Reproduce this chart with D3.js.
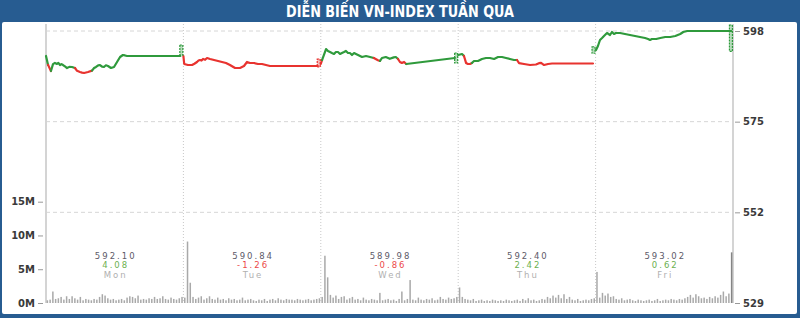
<!DOCTYPE html>
<html lang="vi">
  <head>
    <meta charset="utf-8">
    <title>Diễn biến VN-Index tuần qua</title>
    <style>
      body { margin: 0; background: #fff; }
      svg { display: block; }
      .tick text { font-family: "DejaVu Sans", sans-serif; font-weight: bold; font-size: 10px; fill: #3a3a3a; }
      .tick line { stroke: #999; }
    </style>
  </head>
  <body>
    <svg width="800" height="318"></svg>
    <script src="https://d3js.org/d3.v7.min.js"></script>
    <script>
      // day summary
      var days = ["Mon", "Tue", "Wed", "Thu", "Fri"];
      var closes = [592.10, 590.84, 589.98, 592.40, 593.02];
      var changes = [4.08, -1.26, -0.86, 2.42, 0.62];

      // intraday index, [percent of session, value]
      var priceMon = [[0,591.66],[1.5,589.4],[3.6,587.85],[5.1,589.6],[6.5,589.9],[8.0,589.63],[9.0,589.9],[10.2,589.37],[11.3,589.6],[12.4,589.37],[13.8,589.0],[15.3,588.61],[17.0,588.9],[18.9,588.87],[21.1,588.61],[22.6,587.9],[24.7,587.6],[26.2,587.45],[27.7,587.35],[30.6,587.6],[33.5,587.95],[35.0,588.6],[36.4,588.87],[38.0,589.3],[39.3,589.37],[40.8,588.95],[42.2,588.87],[43.6,589.3],[45.1,589.12],[47.3,588.61],[49.5,588.87],[51.7,590.14],[53.9,591.4],[56.0,591.91],[57.5,591.8],[59.0,591.66],[62.6,591.66],[97.8,591.66]];
      var priceTue = [[0,591.66],[0.6,589.63],[3.3,589.37],[6.3,589.37],[8.0,589.7],[9.9,590.14],[11.0,590.5],[12.1,590.64],[13.2,590.5],[14.3,590.9],[15.8,590.7],[17.2,591.15],[19.4,590.9],[22.3,590.64],[25.2,590.39],[28.1,590.14],[31.0,589.88],[33.9,589.37],[37.6,588.61],[41.2,588.61],[44.1,589.12],[46.3,590.14],[48.5,589.88],[51.4,589.88],[54.3,589.63],[57.2,589.63],[60.1,589.37],[63.0,589.12],[97.8,589.12]];
      var priceWed = [[0,589.63],[0.9,590.64],[3.8,593.43],[5.2,592.93],[6.7,592.67],[8.1,592.42],[9.6,592.17],[11.0,592.67],[12.5,592.67],[14.0,592.17],[15.4,592.42],[16.9,592.67],[18.3,592.93],[19.8,592.42],[21.2,592.42],[22.7,591.91],[24.2,592.42],[25.6,592.17],[27.1,591.91],[30.0,591.40],[32.9,591.66],[35.8,591.40],[38.6,591.15],[41.6,590.6],[43.1,590.4],[44.5,591.15],[47.3,591.4],[50.2,590.95],[53.1,591.3],[54.6,591.4],[56.2,590.9],[57.6,590.14],[59.0,589.88],[60.6,590.14],[62.2,589.63],[97.6,591.15]];
      var priceThu = [[0,591.91],[2.8,592.17],[4.2,591.66],[5.7,589.9],[7.1,589.63],[8.6,589.63],[10.0,589.88],[11.5,590.39],[14.4,590.39],[17.3,590.9],[20.2,591.15],[23.1,591.15],[26.1,590.9],[29.0,591.40],[31.9,591.40],[34.8,591.15],[37.7,590.9],[40.6,590.64],[42.8,590.64],[44.3,589.85],[47.9,589.63],[52.3,589.37],[56.6,589.5],[58.8,589.85],[60.3,589.92],[62.5,589.37],[65.4,589.63],[68.3,589.75],[71.2,589.75],[98.1,589.75]];
      var priceFri = [[0.3,593.18],[1.7,594.19],[3.2,595.72],[4.7,596.22],[6.1,596.73],[8.3,597.49],[10.5,596.99],[11.9,597.75],[13.4,597.24],[14.8,597.49],[17.8,597.49],[21.4,597.24],[25.0,596.99],[28.7,596.73],[32.3,596.48],[36.0,596.22],[38.2,595.97],[39.6,595.72],[41.0,595.97],[44.1,595.97],[47.1,596.22],[50.7,596.48],[54.3,596.48],[58.0,596.73],[61.6,597.24],[63.8,597.75],[66.7,598.00],[98.7,598.00]];

      // closing auction range [high, low]
      var closeHigh = [594.45, 590.90, 592.42, 594.00, 599.52];
      var closeLow = [591.90, 588.87, 589.88, 592.35, 592.85];

      // volume, millions, 50 slots per session
      var volMon = [0.4,0.5,1.7,0.6,0.7,0.9,0.5,1.0,0.6,1.0,0.7,0.5,0.9,0.4,0.6,0.5,0.4,0.6,0.5,0.9,1.3,1.1,0.7,0.5,0.6,0.4,0.5,0.6,0.4,0.8,1.0,0.9,0.7,1.1,0.5,0.6,0.5,0.7,0.6,0.9,0.6,0.7,1.0,0.6,0.5,0.8,0.6,0.5,0.7,0.9];
      var volTue = [0.8,9.1,3.0,0.9,0.6,0.8,1.0,0.5,0.7,1.0,0.6,0.5,0.8,0.5,0.6,0.4,0.7,0.5,0.6,0.4,0.5,0.8,0.4,0.5,0.6,0.4,0.3,0.5,0.4,0.6,0.3,0.5,0.6,0.4,0.7,0.5,0.4,0.6,0.5,0.5,0.4,0.6,0.5,0.4,0.5,0.6,0.4,0.5,0.6,0.7];
      var volWed = [0.9,7.0,3.8,1.2,0.8,1.1,0.6,0.9,1.0,0.5,0.7,0.9,0.5,0.6,0.4,0.8,0.5,0.4,0.6,0.5,0.4,1.5,0.4,0.5,0.6,0.4,0.5,0.3,0.6,1.7,0.4,0.6,3.4,0.5,0.4,0.8,0.5,0.4,0.6,0.5,0.7,0.4,0.5,0.9,0.6,0.5,0.8,0.6,0.7,0.9];
      var volThu = [2.3,0.9,0.6,0.5,0.4,0.6,0.3,0.4,0.5,0.3,0.4,0.3,0.5,0.4,0.3,0.4,0.3,0.5,0.4,0.3,0.4,0.5,0.3,0.6,0.4,0.7,0.4,0.5,0.3,0.4,0.6,0.5,0.9,0.7,1.1,0.8,1.2,0.7,1.3,0.6,0.9,0.5,0.4,0.6,0.3,0.4,0.5,0.4,0.6,0.7];
      var volFri = [4.6,0.8,1.5,1.1,1.4,0.9,1.0,0.6,0.5,0.7,0.4,0.5,0.6,0.4,0.3,0.5,0.4,0.3,0.4,0.5,0.3,0.4,0.6,0.3,0.4,0.5,0.4,0.6,0.5,0.4,0.6,0.5,0.7,0.9,1.2,0.8,1.3,1.0,0.7,0.8,0.6,0.9,0.7,1.0,0.8,1.2,1.7,1.0,1.4,7.5];

      var priceTicks = [529, 552, 575, 598];
      var volTicks = [0, 5, 10, 15];

      var prices = [priceMon, priceTue, priceWed, priceThu, priceFri];
      var volumes = [volMon, volTue, volWed, volThu, volFri];

      var green = "#2f9a3c", red = "#e8332f";
      var svg = d3.select("svg");

      // frame + title
      svg.append("rect").attr("width", 800).attr("height", 318).attr("fill", "#275c91");
      svg.append("rect").attr("x", 2).attr("y", 22).attr("width", 795).attr("height", 292)
        .attr("rx", 2).attr("fill", "#fff");
      svg.append("text")
        .attr("x", 400).attr("y", 16.5)
        .attr("text-anchor", "middle")
        .attr("textLength", 228).attr("lengthAdjust", "spacingAndGlyphs")
        .style("font-family", "'Liberation Sans Narrow', 'DejaVu Sans Condensed', 'Liberation Sans', sans-serif")
        .style("font-weight", "bold").style("font-size", "15px")
        .attr("fill", "#fff")
        .text("DIỄN BIẾN VN-INDEX TUẦN QUA");

      var x = d3.scaleLinear().domain([0, days.length]).range([46, 733]);
      var y = d3.scaleLinear().domain([529, 598]).range([303, 31]);
      var yv = d3.scaleLinear().domain([0, 15]).range([303, 201.7]);

      // grid
      svg.append("g").selectAll("line")
        .data(priceTicks.slice(1))
        .enter().append("line")
        .attr("x1", x(0)).attr("x2", x(5))
        .attr("y1", d => y(d)).attr("y2", d => y(d))
        .attr("stroke", "#d6d6d6").attr("stroke-dasharray", "4,3");

      svg.append("g").selectAll("line")
        .data(d3.range(1, days.length))
        .enter().append("line")
        .attr("x1", d => x(d)).attr("x2", d => x(d))
        .attr("y1", 24).attr("y2", 303)
        .attr("stroke", "#c8c8c8").attr("stroke-dasharray", "1,2");

      [0, days.length].forEach(function(d) {
        svg.append("line")
          .attr("x1", x(d)).attr("x2", x(d)).attr("y1", 24).attr("y2", 303)
          .attr("stroke", "#d4d4d4").attr("stroke-width", 2);
      });

      // volume bars
      var bars = svg.append("g");
      volumes.forEach(function(vols, d) {
        bars.selectAll(null)
          .data(vols)
          .enter().append("rect")
          .attr("x", (v, i) => x(d + (i + 0.5) / vols.length) - 0.75)
          .attr("width", 1.5)
          .attr("y", v => yv(v))
          .attr("height", v => yv(0) - yv(v))
          .attr("fill", (v, i) => (d == days.length - 1 && i == vols.length - 1) ? "#858585" : "#a9a9a9");
      });

      // day labels
      var labels = svg.append("g")
        .style("font-family", "'DejaVu Sans', sans-serif")
        .style("font-size", "8.5px")
        .style("letter-spacing", "2px")
        .attr("text-anchor", "middle");
      days.forEach(function(name, d) {
        var cx = x(d + 0.5) + 1;
        labels.append("text").attr("x", cx).attr("y", 258.5).attr("fill", "#5d5a68")
          .text(closes[d].toFixed(2));
        labels.append("text").attr("x", cx).attr("y", 268.3)
          .attr("fill", changes[d] >= 0 ? "#6cb04f" : "#ec4848")
          .text(changes[d].toFixed(2));
        labels.append("text").attr("x", cx).attr("y", 278.1).attr("fill", "#b0b0b0")
          .text(name);
      });

      // price line, coloured against previous close
      var line = d3.line().x(p => p[0]).y(p => p[1]);
      var pl = svg.append("g").attr("fill", "none").attr("stroke-width", 2.2)
        .attr("stroke-linejoin", "round").attr("stroke-linecap", "round");
      prices.forEach(function(pts, d) {
        var ref = closes[d] - changes[d];
        var pix = pts.map(p => [x(d + p[0] / 100), y(p[1])]);
        var run = [pix[0]], col = null;
        for (var i = 1; i < pts.length; i++) {
          var c = pts[i][1] >= ref ? green : red;
          if (col && c != col) {
            pl.append("path").attr("d", line(run)).attr("stroke", col);
            run = [pix[i - 1]];
          }
          col = c;
          run.push(pix[i]);
        }
        pl.append("path").attr("d", line(run)).attr("stroke", col);

        // closing auction box
        var mid = (closeHigh[d] + closeLow[d]) / 2;
        var mc = mid >= ref ? green : red;
        svg.append("rect")
          .attr("x", x(d + 0.985) - 1.5).attr("width", 3)
          .attr("y", y(closeHigh[d])).attr("height", y(closeLow[d]) - y(closeHigh[d]))
          .attr("fill", mc).attr("fill-opacity", 0.35)
          .attr("stroke", mc).attr("stroke-width", 1.2).attr("stroke-dasharray", "2,1");
      });

      // axes
      svg.append("g")
        .attr("transform", "translate(735,0)")
        .call(d3.axisRight(y).tickValues(priceTicks).tickSize(5).tickPadding(3))
        .select(".domain").remove();

      svg.append("g")
        .attr("transform", "translate(43,0)")
        .call(d3.axisLeft(yv).tickValues(volTicks).tickFormat(d => d + "M").tickSize(5).tickPadding(3))
        .select(".domain").remove();
    </script>
  </body>
</html>
